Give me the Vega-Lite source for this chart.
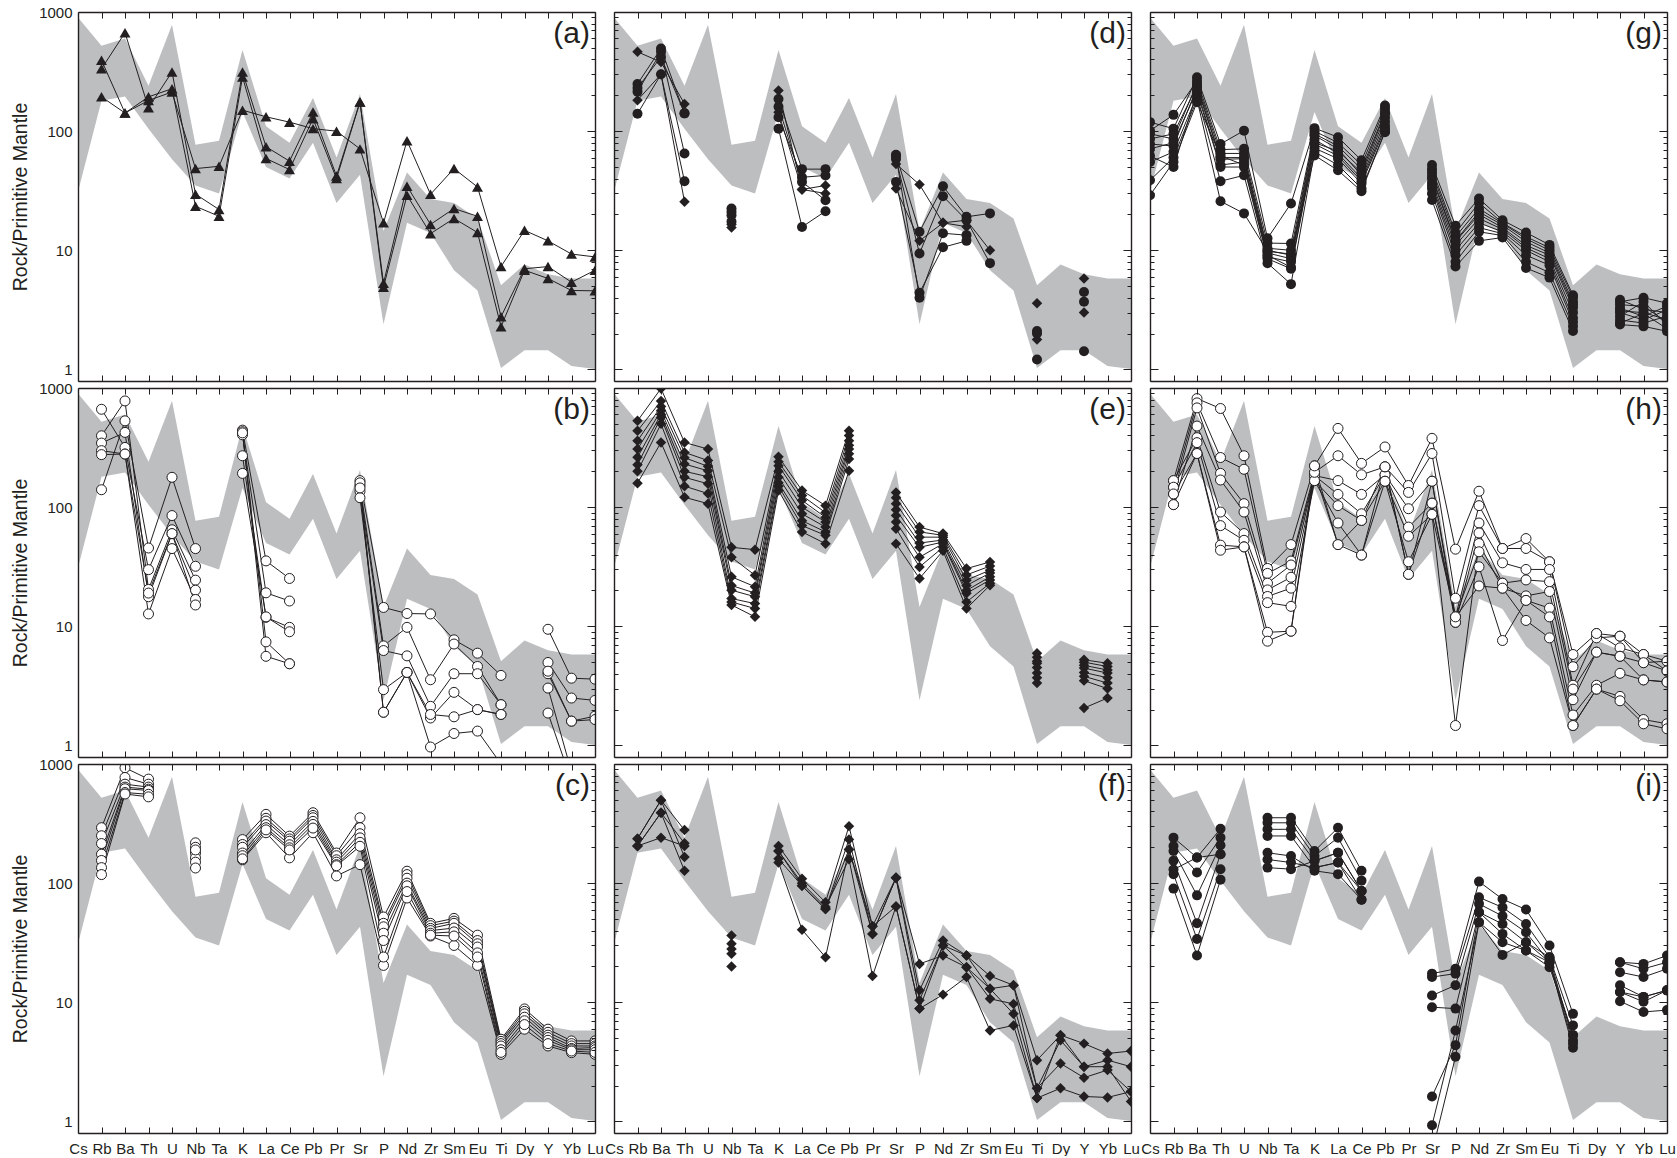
{
"$schema":"https://vega.github.io/schema/vega-lite/v6.json",
"background":"white",
"padding":{"left":10,"top":5,"right":0,"bottom":0},
"bounds":"flush",
"config":{"font":"Liberation Sans","view":{"stroke":null},
"axis":{"minExtent":0,"domain":true,"domainColor":"#231f20","domainWidth":1.4,"grid":false,"tickColor":"#231f20","tickWidth":1,"labelColor":"#231f20","labelFont":"Liberation Sans","titleFont":"Liberation Sans","titleFontWeight":"normal","titleColor":"#231f20"}},
"datasets":{
"band":[{"e":"Cs","lo":31,"hi":900},{"e":"Rb","lo":180,"hi":520},{"e":"Ba","lo":195,"hi":600},{"e":"Th","lo":105,"hi":240},{"e":"U","lo":58,"hi":780},{"e":"Nb","lo":35,"hi":77},{"e":"Ta","lo":30,"hi":83},{"e":"K","lo":145,"hi":480},{"e":"La","lo":50,"hi":110},{"e":"Ce","lo":40,"hi":80},{"e":"Pb","lo":80,"hi":190},{"e":"Pr","lo":25,"hi":60},{"e":"Sr","lo":43,"hi":205},{"e":"P","lo":2.4,"hi":14.5},{"e":"Nd","lo":17,"hi":45},{"e":"Zr","lo":14,"hi":27},{"e":"Sm","lo":6.8,"hi":25},{"e":"Eu","lo":4.6,"hi":18.5},{"e":"Ti","lo":1.03,"hi":5.1},{"e":"Dy","lo":1.45,"hi":7.6},{"e":"Y","lo":1.45,"hi":6.3},{"e":"Yb","lo":1.07,"hi":5.8},{"e":"Lu","lo":1.01,"hi":5.8}],
"A":[{"e":"Rb","s1":194,"s2":334,"s3":393},{"e":"Ba","s1":142,"s2":670,"s3":142},{"e":"Th","s1":181,"s2":157,"s3":194},{"e":"U","s1":213,"s2":314,"s3":227},{"e":"Nb","s1":48.5,"s2":29.6,"s3":23.4},{"e":"Ta","s1":50.7,"s2":22,"s3":19.3},{"e":"K","s1":150,"s2":314,"s3":285},{"e":"La","s1":132,"s2":74,"s3":59},{"e":"Ce","s1":119,"s2":56,"s3":47.6},{"e":"Pb","s1":105,"s2":145,"s3":127},{"e":"Pr","s1":100,"s2":42,"s3":40},{"e":"Sr","s1":71,"s2":176,"s3":176},{"e":"P","s1":17,"s2":5.3,"s3":4.9},{"e":"Nd","s1":83,"s2":34.5,"s3":29},{"e":"Zr","s1":29.5,"s2":16.5,"s3":13.8},{"e":"Sm","s1":48.5,"s2":22.4,"s3":18.5},{"e":"Eu","s1":34,"s2":19.3,"s3":14.1},{"e":"Ti","s1":7.3,"s2":2.77,"s3":2.28},{"e":"Dy","s1":14.7,"s2":7.0,"s3":6.8},{"e":"Y","s1":12,"s2":7.3,"s3":5.8},{"e":"Yb","s1":9.3,"s2":5.4,"s3":4.6},{"e":"Lu","s1":8.8,"s2":6.8,"s3":4.57}],
"B":[{"e":"Rb","s1":140,"s2":663,"s3":397,"s4":345,"s5":298,"s6":276},{"e":"Ba","s1":530,"s2":317,"s3":779,"s4":424,"s5":279,"s6":279},{"e":"Th","s1":45.4,"s2":29.9,"s3":20.4,"s4":17.7,"s5":12.7,"s6":19},{"e":"U","s1":178,"s2":85,"s3":64.6,"s4":59.8,"s5":44.9,"s6":60},{"e":"Nb","s1":44.9,"s2":31.9,"s3":24.4,"s4":20.1,"s5":16.8,"s6":15.1},{"e":"Ta"},{"e":"K","s1":443,"s2":405,"s3":270,"s4":192,"s5":430,"s6":420},{"e":"La","s1":35.4,"s2":19.1,"s3":11.9,"s4":12,"s5":7.4,"s6":5.6},{"e":"Ce","s1":25.2,"s2":16.3,"s3":9.8,"s4":9.0,"s5":4.85,"s6":4.85},{"e":"Pb"},{"e":"Sr","s1":167,"s2":152,"s3":136,"s4":120,"s5":160,"s6":145},{"e":"P","s1":14.4,"s2":6.85,"s3":6.26,"s4":2.94,"s5":1.9,"s6":1.9},{"e":"Nd","s1":12.8,"s2":9.8,"s3":5.65,"s4":4.1,"s5":4.1,"s6":4.1},{"e":"Zr","s1":12.7,"s2":3.56,"s3":2.13,"s4":1.7,"s5":1.82,"s6":0.97},{"e":"Sm","s1":7.7,"s2":7.1,"s3":4.0,"s4":2.79,"s5":1.74,"s6":1.26},{"e":"Eu","s1":5.95,"s2":4.6,"s3":4.0,"s4":2.0,"s5":2.0,"s6":1.32},{"e":"Ti","s1":3.87,"s2":2.2,"s3":2.2,"s4":1.82,"s5":1.82,"s6":0.7},{"e":"Dy"},{"e":"Y","s1":9.44,"s2":4.97,"s3":4.0,"s4":3.03,"s5":1.87,"s6":4.2},{"e":"Yb","s1":3.67,"s2":2.5,"s3":1.6,"s4":0.6,"s5":0.5,"s6":1.6},{"e":"Lu","s1":3.6,"s2":2.39,"s3":1.76,"s6":1.65}],
"C":[{"e":"Rb","s1":292,"s2":250,"s3":215,"s4":175,"s5":155,"s6":135,"s7":118},{"e":"Ba","s1":930,"s2":771,"s3":677,"s4":640,"s5":620,"s6":576,"s7":560},{"e":"Th","s1":747,"s2":677,"s3":640,"s4":615,"s5":600,"s6":557,"s7":530},{"e":"U"},{"e":"Nb","s1":218,"s2":200,"s3":179,"s4":163,"s5":150,"s6":134,"s7":190},{"e":"Ta"},{"e":"K","s1":232,"s2":211,"s3":200,"s4":179,"s5":170,"s6":157,"s7":160},{"e":"La","s1":378,"s2":350,"s3":332,"s4":310,"s5":292,"s6":265,"s7":280},{"e":"Ce","s1":248,"s2":235,"s3":225,"s4":210,"s5":198,"s6":163,"s7":190},{"e":"Pb","s1":390,"s2":370,"s3":354,"s4":330,"s5":311,"s6":265,"s7":290},{"e":"Pr","s1":179,"s2":170,"s3":157,"s4":150,"s5":143,"s6":115,"s7":140},{"e":"Sr","s1":354,"s2":292,"s3":260,"s4":240,"s5":220,"s6":143,"s7":204},{"e":"P","s1":52,"s2":46,"s3":43,"s4":38,"s5":33,"s6":20.4,"s7":24},{"e":"Nd","s1":126,"s2":118,"s3":110,"s4":100,"s5":95,"s6":75,"s7":85},{"e":"Zr","s1":46,"s2":44,"s3":41.7,"s4":40,"s5":38,"s6":36,"s7":36.6},{"e":"Sm","s1":50.6,"s2":48,"s3":46,"s4":42,"s5":39,"s6":30,"s7":36},{"e":"Eu","s1":36.6,"s2":33,"s3":31,"s4":29.1,"s5":26,"s6":20.4,"s7":24},{"e":"Ti","s1":4.9,"s2":4.7,"s3":4.5,"s4":4.3,"s5":4.0,"s6":3.66,"s7":3.8},{"e":"Dy","s1":8.8,"s2":8.4,"s3":8.0,"s4":7.5,"s5":7.0,"s6":5.95,"s7":6.5},{"e":"Y","s1":5.95,"s2":5.6,"s3":5.3,"s4":5.06,"s5":4.8,"s6":4.3,"s7":4.5},{"e":"Yb","s1":4.74,"s2":4.5,"s3":4.3,"s4":4.1,"s5":4.0,"s6":3.78,"s7":3.9},{"e":"Lu","s1":4.74,"s2":4.5,"s3":4.3,"s4":4.17,"s5":4.0,"s6":3.66,"s7":3.8}],
"D":[{"e":"Rb","c1":249,"c2":214,"c3":140,"c4":230,"d1":463,"d2":182},{"e":"Ba","c1":494,"c2":463,"c3":300,"c4":420,"d1":380,"d2":300},{"e":"Th","c1":141,"c2":65,"c3":38,"c4":141,"d1":169,"d2":25.5},{"e":"U"},{"e":"Nb","c1":22.4,"c2":19.7,"c3":17.4,"c4":21,"d1":16.5,"d2":15.5},{"e":"Ta"},{"e":"K","c1":186,"c2":131,"c3":105,"c4":160,"d1":219,"d2":144},{"e":"La","c1":48,"c2":41,"c3":15.7,"c4":37.5,"d1":32.4,"d2":32.4},{"e":"Ce","c1":48,"c2":42.5,"c3":21.3,"c4":26.3,"d1":30,"d2":35},{"e":"Pb"},{"e":"Sr","c1":63.4,"c2":58.5,"c3":37.5,"c4":62,"d1":53,"d2":33},{"e":"P","c1":14.3,"c2":9.4,"c3":4.4,"c4":4.0,"d1":35.6,"d2":12},{"e":"Nd","c1":34.5,"c2":28.4,"c3":10.6,"c4":13.9,"d1":17,"d2":17},{"e":"Zr","c1":19.1,"c2":17.9,"c3":12,"c4":13.4,"d1":17.9,"d2":15.8},{"e":"Sm","c1":20.4,"c2":7.8,"d1":10},{"e":"Eu"},{"e":"Ti","c1":2.1,"c2":2.0,"c3":1.21,"d1":3.6,"d2":1.78},{"e":"Dy"},{"e":"Y","c1":4.46,"c2":3.7,"c3":1.42,"d1":5.8,"d2":3.0}],
"E":[{"e":"Rb","s1":530,"s2":437,"s3":361,"s4":307,"s5":262,"s6":227,"s7":200,"s8":159},{"e":"Ba","s1":990,"s2":779,"s3":700,"s4":643,"s5":600,"s6":565,"s7":500,"s8":349},{"e":"Th","s1":349,"s2":288,"s3":260,"s4":230,"s5":200,"s6":178,"s7":150,"s8":121},{"e":"U","s1":307,"s2":246,"s3":220,"s4":202,"s5":180,"s6":157,"s7":130,"s8":107},{"e":"Nb","s1":46,"s2":38,"s3":26,"s4":22,"s5":20.1,"s6":17.1,"s7":16,"s8":15.1},{"e":"Ta","s1":44,"s2":26.8,"s3":21.5,"s4":19,"s5":17.7,"s6":15.5,"s7":14.1,"s8":12},{"e":"K","s1":265,"s2":240,"s3":223,"s4":200,"s5":178,"s6":160,"s7":150,"s8":138},{"e":"La","s1":138,"s2":125,"s3":114,"s4":100,"s5":88,"s6":77,"s7":70,"s8":62},{"e":"Ce","s1":103,"s2":90,"s3":82,"s4":75,"s5":68,"s6":62,"s7":58,"s8":49.4},{"e":"Pb","s1":437,"s2":400,"s3":361,"s4":330,"s5":307,"s6":280,"s7":253,"s8":202},{"e":"Pr"},{"e":"Sr","s1":133,"s2":120,"s3":107,"s4":95,"s5":85,"s6":75,"s7":66,"s8":49.4},{"e":"P","s1":68,"s2":62,"s3":56,"s4":50,"s5":46,"s6":38,"s7":31.5,"s8":25.2},{"e":"Nd","s1":60,"s2":58,"s3":56,"s4":53,"s5":51,"s6":49.4,"s7":46,"s8":43},{"e":"Zr","s1":30.5,"s2":27,"s3":24.4,"s4":22,"s5":20,"s6":18.9,"s7":16,"s8":14.1},{"e":"Sm","s1":34.7,"s2":32,"s3":29.6,"s4":28,"s5":26,"s6":24.5,"s7":23,"s8":22.1},{"e":"Eu"},{"e":"Ti","s1":5.95,"s2":5.5,"s3":5.1,"s4":4.9,"s5":4.5,"s6":4.05,"s7":3.7,"s8":3.34},{"e":"Dy"},{"e":"Y","s1":5.23,"s2":5.0,"s3":4.7,"s4":4.46,"s5":4.1,"s6":3.8,"s7":3.5,"s8":2.06},{"e":"Yb","s1":4.9,"s2":4.6,"s3":4.3,"s4":4.05,"s5":3.7,"s6":3.34,"s7":3.0,"s8":2.5}],
"F":[{"e":"Rb","s1":236,"s2":205,"s3":205,"s4":236,"s5":205},{"e":"Ba","s1":497,"s2":390,"s3":241,"s4":497,"s5":390},{"e":"Th","s1":279,"s2":216,"s3":205,"s4":166,"s5":127},{"e":"U"},{"e":"Nb","s1":36.3,"s2":31,"s3":28,"s4":25.5,"s5":20},{"e":"Ta"},{"e":"K","s1":205,"s2":186,"s3":149,"s4":186,"s5":160},{"e":"La","s1":109,"s2":95,"s3":40.7,"s4":100,"s5":95},{"e":"Ce","s1":69,"s2":60.6,"s3":23.9,"s4":63,"s5":60.6},{"e":"Pb","s1":301,"s2":233,"s3":192,"s4":159,"s5":192},{"e":"Pr","s1":43.4,"s2":37.5,"s3":37.5,"s4":16.6,"s5":43.4},{"e":"Sr","s1":111,"s2":111,"s3":111,"s4":63.8,"s5":63.8},{"e":"P","s1":12.6,"s2":10.4,"s3":21,"s4":8.85,"s5":8.85},{"e":"Nd","s1":33,"s2":30,"s3":24.7,"s4":11.6,"s5":30},{"e":"Zr","s1":24.7,"s2":19.7,"s3":19.7,"s4":16.3,"s5":24.7},{"e":"Sm","s1":16.6,"s2":13,"s3":10.7,"s4":5.8,"s5":13},{"e":"Eu","s1":13.9,"s2":13.9,"s3":9.7,"s4":6.4,"s5":8.0},{"e":"Ti","s1":3.27,"s2":1.9,"s3":1.9,"s4":1.57,"s5":1.57},{"e":"Dy","s1":5.3,"s2":4.8,"s3":3.07,"s4":1.9,"s5":5.3},{"e":"Y","s1":4.5,"s2":2.88,"s3":2.33,"s4":1.62,"s5":2.88},{"e":"Yb","s1":3.72,"s2":3.27,"s3":2.7,"s4":1.59,"s5":2.88},{"e":"Lu","s1":3.9,"s2":2.88,"s3":1.78,"s4":1.78,"s5":1.47}],
"G":[{"e":"Cs","s1":119,"s2":101,"s3":95,"s4":86,"s5":78,"s6":71,"s7":62,"s8":55,"s9":38.7,"s10":29},{"e":"Rb","s1":105,"s2":137,"s3":86,"s4":95,"s5":75,"s6":80,"s7":50,"s8":67,"s9":60,"s10":55},{"e":"Ba","s1":283,"s2":265,"s3":250,"s4":240,"s5":233,"s6":220,"s7":210,"s8":199,"s9":185,"s10":175},{"e":"Th","s1":78,"s2":70,"s3":65,"s4":60,"s5":58,"s6":52,"s7":50,"s8":38,"s9":25.8,"s10":62},{"e":"U","s1":101,"s2":71,"s3":65,"s4":60,"s5":58.7,"s6":55,"s7":50,"s8":42.6,"s9":20.4,"s10":52},{"e":"Nb","s1":12.6,"s2":11.5,"s3":10.4,"s4":10,"s5":9.5,"s6":9.1,"s7":8.5,"s8":7.8,"s9":9.8,"s10":8.8},{"e":"Ta","s1":24.7,"s2":11.4,"s3":10,"s4":9.1,"s5":8.5,"s6":7.2,"s7":7.0,"s8":5.2,"s9":9.3,"s10":8},{"e":"K","s1":106,"s2":100,"s3":95,"s4":92,"s5":85,"s6":78,"s7":72,"s8":67,"s9":62.6,"s10":80},{"e":"La","s1":89,"s2":80,"s3":75,"s4":71,"s5":65,"s6":62,"s7":58.7,"s8":52,"s9":46.9,"s10":68},{"e":"Ce","s1":56.9,"s2":52,"s3":48,"s4":42.6,"s5":40,"s6":38,"s7":36.3,"s8":33,"s9":31.3,"s10":45},{"e":"Pb","s1":164,"s2":155,"s3":144,"s4":130,"s5":120,"s6":111,"s7":105,"s8":98,"s9":100,"s10":140},{"e":"Pr"},{"e":"Sr","s1":52,"s2":48,"s3":45,"s4":42,"s5":40,"s6":37,"s7":35,"s8":33,"s9":30,"s10":26.4},{"e":"P","s1":16.1,"s2":14,"s3":13,"s4":12,"s5":11.8,"s6":11,"s7":10,"s8":9.1,"s9":8,"s10":7.3},{"e":"Nd","s1":27.2,"s2":25,"s3":22.4,"s4":21,"s5":20,"s6":18.5,"s7":17,"s8":15.5,"s9":14.3,"s10":12},{"e":"Zr","s1":17.9,"s2":17,"s3":16.8,"s4":16.3,"s5":15.5,"s6":15,"s7":14.3,"s8":13.8,"s9":13.3,"s10":12.8},{"e":"Sm","s1":14.1,"s2":13,"s3":12.5,"s4":11.8,"s5":11,"s6":10.5,"s7":10,"s8":9.1,"s9":8,"s10":7.1},{"e":"Eu","s1":11.1,"s2":10.5,"s3":10,"s4":9.5,"s5":9.1,"s6":8.5,"s7":8,"s8":7.5,"s9":6.5,"s10":5.9},{"e":"Ti","s1":4.2,"s2":4.0,"s3":3.7,"s4":3.5,"s5":3.3,"s6":3.0,"s7":2.7,"s8":2.5,"s9":2.3,"s10":2.1},{"e":"Dy"},{"e":"Y","s1":3.85,"s2":3.7,"s3":3.5,"s4":3.27,"s5":3.1,"s6":3.0,"s7":2.79,"s8":2.6,"s9":2.45,"s10":2.38},{"e":"Yb","s1":3.2,"s2":4.0,"s3":3.38,"s4":2.79,"s5":3.0,"s6":2.6,"s7":3.7,"s8":2.45,"s9":2.95,"s10":2.3},{"e":"Lu","s1":3.0,"s2":3.6,"s3":2.5,"s4":3.4,"s5":2.62,"s6":3.17,"s7":2.35,"s8":2.8,"s9":2.2,"s10":2.09}],
"H":[{"e":"Rb","s1":167,"s2":147,"s3":129,"s4":105,"s5":167,"s6":147,"s7":129,"s8":105},{"e":"Ba","s1":815,"s2":750,"s3":681,"s4":479,"s5":383,"s6":348,"s7":282,"s8":282},{"e":"Th","s1":673,"s2":261,"s3":192,"s4":169,"s5":91,"s6":70,"s7":48,"s8":43.5},{"e":"U","s1":270,"s2":208,"s3":107,"s4":91,"s5":60,"s6":52.7,"s7":46.4,"s8":46.4},{"e":"Nb","s1":30.6,"s2":27.8,"s3":23,"s4":20.2,"s5":17.8,"s6":15.8,"s7":8.9,"s8":7.5},{"e":"Ta","s1":48.5,"s2":35.3,"s3":32.7,"s4":25.8,"s5":20.9,"s6":14.7,"s7":9.1,"s8":9.1},{"e":"K","s1":222,"s2":196,"s3":184,"s4":184,"s5":167,"s6":167,"s7":196,"s8":222},{"e":"La","s1":458,"s2":270,"s3":167,"s4":128,"s5":103,"s6":73.6,"s7":48.5,"s8":48.5},{"e":"Ce","s1":233,"s2":187,"s3":128,"s4":88,"s5":77.4,"s6":39.6,"s7":39.6,"s8":77.4},{"e":"Pb","s1":320,"s2":218,"s3":187,"s4":187,"s5":165,"s6":165,"s7":218,"s8":218},{"e":"Pr","s1":152,"s2":133,"s3":97,"s4":68,"s5":57,"s6":34.8,"s7":27.3,"s8":27.3},{"e":"Sr","s1":378,"s2":282,"s3":165,"s4":108,"s5":87,"s6":87,"s7":165,"s8":108},{"e":"P","s1":44.4,"s2":17.2,"s3":12,"s4":10.8,"s5":1.47,"s6":12,"s7":10.8,"s8":12},{"e":"Nd","s1":136,"s2":103,"s3":73.6,"s4":60.7,"s5":49.5,"s6":42.2,"s7":31.6,"s8":21.8},{"e":"Zr","s1":45,"s2":45,"s3":34.1,"s4":23,"s5":20.9,"s6":23,"s7":7.6,"s8":20.9},{"e":"Sm","s1":54.5,"s2":45,"s3":30,"s4":24.5,"s5":18,"s6":16.5,"s7":16.5,"s8":11.2},{"e":"Eu","s1":34.8,"s2":34.8,"s3":30,"s4":23.7,"s5":19.6,"s6":14.2,"s7":12,"s8":8.0},{"e":"Ti","s1":5.8,"s2":4.58,"s3":3.2,"s4":2.97,"s5":2.42,"s6":1.8,"s7":1.47,"s8":1.47},{"e":"Dy","s1":8.7,"s2":8.0,"s3":8.7,"s4":6.07,"s5":6.07,"s6":3.2,"s7":2.97,"s8":2.97},{"e":"Y","s1":8.26,"s2":8.26,"s3":6.6,"s4":5.6,"s5":5.6,"s6":4.03,"s7":2.58,"s8":2.37},{"e":"Yb","s1":5.8,"s2":4.95,"s3":5.8,"s4":4.95,"s5":3.55,"s6":3.55,"s7":1.65,"s8":1.52},{"e":"Lu","s1":5.1,"s2":5.1,"s3":4.22,"s4":4.22,"s5":3.41,"s6":3.41,"s7":1.52,"s8":1.38}],
"I":[{"e":"Rb","s1":241,"s2":205,"s3":186,"s4":154,"s5":119,"s6":90,"s7":130},{"e":"Ba","s1":164,"s2":123,"s3":79,"s4":46,"s5":34,"s6":24.7,"s7":164},{"e":"Th","s1":286,"s2":241,"s3":208,"s4":175,"s5":131,"s6":107,"s7":175},{"e":"U"},{"e":"Nb","s1":354,"s2":321,"s3":283,"s4":249,"s5":180,"s6":158,"s7":135},{"e":"Ta","s1":354,"s2":321,"s3":283,"s4":249,"s5":169,"s6":149,"s7":131},{"e":"K","s1":186,"s2":169,"s3":154,"s4":135,"s5":127,"s6":135,"s7":154},{"e":"La","s1":292,"s2":241,"s3":180,"s4":149,"s5":119,"s6":149,"s7":180},{"e":"Ce","s1":127,"s2":105,"s3":86,"s4":72.6,"s5":72.6,"s6":86,"s7":86},{"e":"Pb"},{"e":"Sr","s1":17.4,"s2":16.3,"s3":11.4,"s4":9.1,"s5":1.62,"s6":0.55,"s7":0.93},{"e":"P","s1":19.1,"s2":17.4,"s3":13.9,"s4":8.85,"s5":4.37,"s6":3.49,"s7":5.8},{"e":"Nd","s1":103,"s2":76,"s3":67,"s4":57,"s5":57,"s6":47,"s7":47},{"e":"Zr","s1":73.5,"s2":62.6,"s3":53,"s4":45.4,"s5":37.5,"s6":31.9,"s7":25},{"e":"Sm","s1":60,"s2":45.4,"s3":38.7,"s4":31.9,"s5":27.2,"s6":27.2,"s7":31.9},{"e":"Eu","s1":30,"s2":23.9,"s3":21.7,"s4":21.7,"s5":19.7,"s6":21.7,"s7":23.9},{"e":"Ti","s1":8.0,"s2":6.4,"s3":5.3,"s4":4.15,"s5":5.3,"s6":4.5,"s7":4.8},{"e":"Dy"},{"e":"Y","s1":21.7,"s2":21.7,"s3":17.9,"s4":13.9,"s5":12.2,"s6":10.2,"s7":12.2},{"e":"Yb","s1":21,"s2":19.1,"s3":16.3,"s4":11.1,"s5":10.1,"s6":8.3,"s7":11.1},{"e":"Lu","s1":24.7,"s2":21.7,"s3":19.1,"s4":12.6,"s5":12.6,"s6":8.6,"s7":12.6}]
},
"columns":3,
"spacing":{"row":7,"column":19},
"concat":[
{"width":517,"height":369,"resolve":{"axis":{"x":"independent","y":"independent"}},"layer":[
{"data":{"name":"band"},"mark":{"type":"area","color":"#bcbec0","opacity":1},"encoding":{"x":{"field":"e","type":"ordinal","sort":["Cs","Rb","Ba","Th","U","Nb","Ta","K","La","Ce","Pb","Pr","Sr","P","Nd","Zr","Sm","Eu","Ti","Dy","Y","Yb","Lu"],"scale":{"type":"point","domain":["Cs","Rb","Ba","Th","U","Nb","Ta","K","La","Ce","Pb","Pr","Sr","P","Nd","Zr","Sm","Eu","Ti","Dy","Y","Yb","Lu"],"padding":0},"axis":{"orient":"bottom","labels":false,"title":null,"tickSize":-6,"minExtent":0,"maxExtent":0,"zindex":1}},"y":{"field":"lo","type":"quantitative","scale":{"type":"log","domain":[0.8,1000],"nice":false},"axis":{"orient":"left","values":[1,10,100,1000],"format":"d","ticks":false,"labelFontSize":15,"labelPadding":6,"title":"Rock/Primitive Mantle","titleFontSize":19.5,"titlePadding":8,"zindex":1}},"y2":{"field":"hi"}}},
{"data":{"name":"band"},"mark":{"type":"point","opacity":0},"encoding":{"x":{"field":"e","type":"ordinal","sort":["Cs","Rb","Ba","Th","U","Nb","Ta","K","La","Ce","Pb","Pr","Sr","P","Nd","Zr","Sm","Eu","Ti","Dy","Y","Yb","Lu"],"axis":{"orient":"top","labels":false,"title":null,"tickSize":-6,"minExtent":0,"maxExtent":0,"zindex":1}},"y":{"field":"hi","type":"quantitative","axis":{"orient":"right","values":[1,2,3,4,5,6,7,8,9,10,20,30,40,50,60,70,80,90,100,200,300,400,500,600,700,800,900,1000],"labels":false,"title":null,"minExtent":0,"maxExtent":0,"tickSize":{"condition":{"test":"indexof([1,10,100,1000], datum.value) >= 0","value":-8},"value":-4},"zindex":1}}}},
{"data":{"name":"A"},"transform":[{"fold":["s1","s2","s3"],"as":["k","v"]}],"mark":{"type":"line","color":"#231f20","strokeWidth":1,"clip":true},"encoding":{"x":{"field":"e","type":"ordinal","sort":["Cs","Rb","Ba","Th","U","Nb","Ta","K","La","Ce","Pb","Pr","Sr","P","Nd","Zr","Sm","Eu","Ti","Dy","Y","Yb","Lu"],"axis":null},"y":{"field":"v","type":"quantitative","axis":null},"detail":{"field":"k"}}},
{"data":{"name":"A"},"transform":[{"fold":["s1","s2","s3"],"as":["k","v"]}],"mark":{"type":"point","shape":"triangle-up","filled":true,"color":"#231f20","opacity":1,"size":120,"clip":true},"encoding":{"x":{"field":"e","type":"ordinal","axis":null},"y":{"field":"v","type":"quantitative","axis":null}}},
{"data":{"values":[{"t":"(a)"}]},"mark":{"type":"text","align":"right","baseline":"middle","fontSize":30,"dx":-5,"color":"#231f20"},"encoding":{"x":{"datum":"Lu","type":"ordinal","axis":null},"y":{"datum":650,"type":"quantitative","axis":null},"text":{"field":"t"}}}
]},
{"width":517,"height":369,"resolve":{"axis":{"x":"independent","y":"independent"}},"layer":[
{"data":{"name":"band"},"mark":{"type":"area","color":"#bcbec0","opacity":1},"encoding":{"x":{"field":"e","type":"ordinal","sort":["Cs","Rb","Ba","Th","U","Nb","Ta","K","La","Ce","Pb","Pr","Sr","P","Nd","Zr","Sm","Eu","Ti","Dy","Y","Yb","Lu"],"scale":{"type":"point","domain":["Cs","Rb","Ba","Th","U","Nb","Ta","K","La","Ce","Pb","Pr","Sr","P","Nd","Zr","Sm","Eu","Ti","Dy","Y","Yb","Lu"],"padding":0},"axis":{"orient":"bottom","labels":false,"title":null,"tickSize":-6,"minExtent":0,"maxExtent":0,"zindex":1}},"y":{"field":"lo","type":"quantitative","scale":{"type":"log","domain":[0.8,1000],"nice":false},"axis":{"orient":"left","values":[1,2,3,4,5,6,7,8,9,10,20,30,40,50,60,70,80,90,100,200,300,400,500,600,700,800,900,1000],"labels":false,"title":null,"minExtent":0,"maxExtent":0,"tickSize":{"condition":{"test":"indexof([1,10,100,1000], datum.value) >= 0","value":-8},"value":-4},"zindex":1}},"y2":{"field":"hi"}}},
{"data":{"name":"band"},"mark":{"type":"point","opacity":0},"encoding":{"x":{"field":"e","type":"ordinal","sort":["Cs","Rb","Ba","Th","U","Nb","Ta","K","La","Ce","Pb","Pr","Sr","P","Nd","Zr","Sm","Eu","Ti","Dy","Y","Yb","Lu"],"axis":{"orient":"top","labels":false,"title":null,"tickSize":-6,"minExtent":0,"maxExtent":0,"zindex":1}},"y":{"field":"hi","type":"quantitative","axis":{"orient":"right","values":[1,2,3,4,5,6,7,8,9,10,20,30,40,50,60,70,80,90,100,200,300,400,500,600,700,800,900,1000],"labels":false,"title":null,"minExtent":0,"maxExtent":0,"tickSize":{"condition":{"test":"indexof([1,10,100,1000], datum.value) >= 0","value":-8},"value":-4},"zindex":1}}}},
{"data":{"name":"D"},"transform":[{"fold":["c1","c2","c3","c4","d1","d2"],"as":["k","v"]}],"mark":{"type":"line","color":"#231f20","strokeWidth":1,"clip":true},"encoding":{"x":{"field":"e","type":"ordinal","sort":["Cs","Rb","Ba","Th","U","Nb","Ta","K","La","Ce","Pb","Pr","Sr","P","Nd","Zr","Sm","Eu","Ti","Dy","Y","Yb","Lu"],"axis":null},"y":{"field":"v","type":"quantitative","axis":null},"detail":{"field":"k"}}},
{"data":{"name":"D"},"transform":[{"fold":["c1","c2","c3","c4"],"as":["k","v"]}],"mark":{"type":"point","shape":"circle","filled":true,"color":"#231f20","opacity":1,"size":100,"clip":true},"encoding":{"x":{"field":"e","type":"ordinal","axis":null},"y":{"field":"v","type":"quantitative","axis":null}}},
{"data":{"name":"D"},"transform":[{"fold":["d1","d2"],"as":["k","v"]}],"mark":{"type":"point","shape":"diamond","filled":true,"color":"#231f20","opacity":1,"size":110,"clip":true},"encoding":{"x":{"field":"e","type":"ordinal","axis":null},"y":{"field":"v","type":"quantitative","axis":null}}},
{"data":{"values":[{"t":"(d)"}]},"mark":{"type":"text","align":"right","baseline":"middle","fontSize":30,"dx":-5,"color":"#231f20"},"encoding":{"x":{"datum":"Lu","type":"ordinal","axis":null},"y":{"datum":650,"type":"quantitative","axis":null},"text":{"field":"t"}}}
]},
{"width":517,"height":369,"resolve":{"axis":{"x":"independent","y":"independent"}},"layer":[
{"data":{"name":"band"},"mark":{"type":"area","color":"#bcbec0","opacity":1},"encoding":{"x":{"field":"e","type":"ordinal","sort":["Cs","Rb","Ba","Th","U","Nb","Ta","K","La","Ce","Pb","Pr","Sr","P","Nd","Zr","Sm","Eu","Ti","Dy","Y","Yb","Lu"],"scale":{"type":"point","domain":["Cs","Rb","Ba","Th","U","Nb","Ta","K","La","Ce","Pb","Pr","Sr","P","Nd","Zr","Sm","Eu","Ti","Dy","Y","Yb","Lu"],"padding":0},"axis":{"orient":"bottom","labels":false,"title":null,"tickSize":-6,"minExtent":0,"maxExtent":0,"zindex":1}},"y":{"field":"lo","type":"quantitative","scale":{"type":"log","domain":[0.8,1000],"nice":false},"axis":{"orient":"left","values":[1,2,3,4,5,6,7,8,9,10,20,30,40,50,60,70,80,90,100,200,300,400,500,600,700,800,900,1000],"labels":false,"title":null,"minExtent":0,"maxExtent":0,"tickSize":{"condition":{"test":"indexof([1,10,100,1000], datum.value) >= 0","value":-8},"value":-4},"zindex":1}},"y2":{"field":"hi"}}},
{"data":{"name":"band"},"mark":{"type":"point","opacity":0},"encoding":{"x":{"field":"e","type":"ordinal","sort":["Cs","Rb","Ba","Th","U","Nb","Ta","K","La","Ce","Pb","Pr","Sr","P","Nd","Zr","Sm","Eu","Ti","Dy","Y","Yb","Lu"],"axis":{"orient":"top","labels":false,"title":null,"tickSize":-6,"minExtent":0,"maxExtent":0,"zindex":1}},"y":{"field":"hi","type":"quantitative","axis":{"orient":"right","values":[1,2,3,4,5,6,7,8,9,10,20,30,40,50,60,70,80,90,100,200,300,400,500,600,700,800,900,1000],"labels":false,"title":null,"minExtent":0,"maxExtent":0,"tickSize":{"condition":{"test":"indexof([1,10,100,1000], datum.value) >= 0","value":-8},"value":-4},"zindex":1}}}},
{"data":{"name":"G"},"transform":[{"fold":["s1","s2","s3","s4","s5","s6","s7","s8","s9","s10"],"as":["k","v"]}],"mark":{"type":"line","color":"#231f20","strokeWidth":1,"clip":true},"encoding":{"x":{"field":"e","type":"ordinal","sort":["Cs","Rb","Ba","Th","U","Nb","Ta","K","La","Ce","Pb","Pr","Sr","P","Nd","Zr","Sm","Eu","Ti","Dy","Y","Yb","Lu"],"axis":null},"y":{"field":"v","type":"quantitative","axis":null},"detail":{"field":"k"}}},
{"data":{"name":"G"},"transform":[{"fold":["s1","s2","s3","s4","s5","s6","s7","s8","s9","s10"],"as":["k","v"]}],"mark":{"type":"point","shape":"circle","filled":true,"color":"#231f20","opacity":1,"size":100,"clip":true},"encoding":{"x":{"field":"e","type":"ordinal","axis":null},"y":{"field":"v","type":"quantitative","axis":null}}},
{"data":{"values":[{"t":"(g)"}]},"mark":{"type":"text","align":"right","baseline":"middle","fontSize":30,"dx":-5,"color":"#231f20"},"encoding":{"x":{"datum":"Lu","type":"ordinal","axis":null},"y":{"datum":650,"type":"quantitative","axis":null},"text":{"field":"t"}}}
]},
{"width":517,"height":369,"resolve":{"axis":{"x":"independent","y":"independent"}},"layer":[
{"data":{"name":"band"},"mark":{"type":"area","color":"#bcbec0","opacity":1},"encoding":{"x":{"field":"e","type":"ordinal","sort":["Cs","Rb","Ba","Th","U","Nb","Ta","K","La","Ce","Pb","Pr","Sr","P","Nd","Zr","Sm","Eu","Ti","Dy","Y","Yb","Lu"],"scale":{"type":"point","domain":["Cs","Rb","Ba","Th","U","Nb","Ta","K","La","Ce","Pb","Pr","Sr","P","Nd","Zr","Sm","Eu","Ti","Dy","Y","Yb","Lu"],"padding":0},"axis":{"orient":"bottom","labels":false,"title":null,"tickSize":-6,"minExtent":0,"maxExtent":0,"zindex":1}},"y":{"field":"lo","type":"quantitative","scale":{"type":"log","domain":[0.8,1000],"nice":false},"axis":{"orient":"left","values":[1,10,100,1000],"format":"d","ticks":false,"labelFontSize":15,"labelPadding":6,"title":"Rock/Primitive Mantle","titleFontSize":19.5,"titlePadding":8,"zindex":1}},"y2":{"field":"hi"}}},
{"data":{"name":"band"},"mark":{"type":"point","opacity":0},"encoding":{"x":{"field":"e","type":"ordinal","sort":["Cs","Rb","Ba","Th","U","Nb","Ta","K","La","Ce","Pb","Pr","Sr","P","Nd","Zr","Sm","Eu","Ti","Dy","Y","Yb","Lu"],"axis":{"orient":"top","labels":false,"title":null,"tickSize":-6,"minExtent":0,"maxExtent":0,"zindex":1}},"y":{"field":"hi","type":"quantitative","axis":{"orient":"right","values":[1,2,3,4,5,6,7,8,9,10,20,30,40,50,60,70,80,90,100,200,300,400,500,600,700,800,900,1000],"labels":false,"title":null,"minExtent":0,"maxExtent":0,"tickSize":{"condition":{"test":"indexof([1,10,100,1000], datum.value) >= 0","value":-8},"value":-4},"zindex":1}}}},
{"data":{"name":"B"},"transform":[{"fold":["s1","s2","s3","s4","s5","s6"],"as":["k","v"]}],"mark":{"type":"line","color":"#231f20","strokeWidth":1,"clip":true},"encoding":{"x":{"field":"e","type":"ordinal","sort":["Cs","Rb","Ba","Th","U","Nb","Ta","K","La","Ce","Pb","Pr","Sr","P","Nd","Zr","Sm","Eu","Ti","Dy","Y","Yb","Lu"],"axis":null},"y":{"field":"v","type":"quantitative","axis":null},"detail":{"field":"k"}}},
{"data":{"name":"B"},"transform":[{"fold":["s1","s2","s3","s4","s5","s6"],"as":["k","v"]}],"mark":{"type":"point","shape":"circle","filled":true,"fill":"white","stroke":"#231f20","strokeWidth":1,"opacity":1,"size":100,"clip":true},"encoding":{"x":{"field":"e","type":"ordinal","axis":null},"y":{"field":"v","type":"quantitative","axis":null}}},
{"data":{"values":[{"t":"(b)"}]},"mark":{"type":"text","align":"right","baseline":"middle","fontSize":30,"dx":-5,"color":"#231f20"},"encoding":{"x":{"datum":"Lu","type":"ordinal","axis":null},"y":{"datum":650,"type":"quantitative","axis":null},"text":{"field":"t"}}}
]},
{"width":517,"height":369,"resolve":{"axis":{"x":"independent","y":"independent"}},"layer":[
{"data":{"name":"band"},"mark":{"type":"area","color":"#bcbec0","opacity":1},"encoding":{"x":{"field":"e","type":"ordinal","sort":["Cs","Rb","Ba","Th","U","Nb","Ta","K","La","Ce","Pb","Pr","Sr","P","Nd","Zr","Sm","Eu","Ti","Dy","Y","Yb","Lu"],"scale":{"type":"point","domain":["Cs","Rb","Ba","Th","U","Nb","Ta","K","La","Ce","Pb","Pr","Sr","P","Nd","Zr","Sm","Eu","Ti","Dy","Y","Yb","Lu"],"padding":0},"axis":{"orient":"bottom","labels":false,"title":null,"tickSize":-6,"minExtent":0,"maxExtent":0,"zindex":1}},"y":{"field":"lo","type":"quantitative","scale":{"type":"log","domain":[0.8,1000],"nice":false},"axis":{"orient":"left","values":[1,2,3,4,5,6,7,8,9,10,20,30,40,50,60,70,80,90,100,200,300,400,500,600,700,800,900,1000],"labels":false,"title":null,"minExtent":0,"maxExtent":0,"tickSize":{"condition":{"test":"indexof([1,10,100,1000], datum.value) >= 0","value":-8},"value":-4},"zindex":1}},"y2":{"field":"hi"}}},
{"data":{"name":"band"},"mark":{"type":"point","opacity":0},"encoding":{"x":{"field":"e","type":"ordinal","sort":["Cs","Rb","Ba","Th","U","Nb","Ta","K","La","Ce","Pb","Pr","Sr","P","Nd","Zr","Sm","Eu","Ti","Dy","Y","Yb","Lu"],"axis":{"orient":"top","labels":false,"title":null,"tickSize":-6,"minExtent":0,"maxExtent":0,"zindex":1}},"y":{"field":"hi","type":"quantitative","axis":{"orient":"right","values":[1,2,3,4,5,6,7,8,9,10,20,30,40,50,60,70,80,90,100,200,300,400,500,600,700,800,900,1000],"labels":false,"title":null,"minExtent":0,"maxExtent":0,"tickSize":{"condition":{"test":"indexof([1,10,100,1000], datum.value) >= 0","value":-8},"value":-4},"zindex":1}}}},
{"data":{"name":"E"},"transform":[{"fold":["s1","s2","s3","s4","s5","s6","s7","s8"],"as":["k","v"]}],"mark":{"type":"line","color":"#231f20","strokeWidth":1,"clip":true},"encoding":{"x":{"field":"e","type":"ordinal","sort":["Cs","Rb","Ba","Th","U","Nb","Ta","K","La","Ce","Pb","Pr","Sr","P","Nd","Zr","Sm","Eu","Ti","Dy","Y","Yb","Lu"],"axis":null},"y":{"field":"v","type":"quantitative","axis":null},"detail":{"field":"k"}}},
{"data":{"name":"E"},"transform":[{"fold":["s1","s2","s3","s4","s5","s6","s7","s8"],"as":["k","v"]}],"mark":{"type":"point","shape":"diamond","filled":true,"color":"#231f20","opacity":1,"size":110,"clip":true},"encoding":{"x":{"field":"e","type":"ordinal","axis":null},"y":{"field":"v","type":"quantitative","axis":null}}},
{"data":{"values":[{"t":"(e)"}]},"mark":{"type":"text","align":"right","baseline":"middle","fontSize":30,"dx":-5,"color":"#231f20"},"encoding":{"x":{"datum":"Lu","type":"ordinal","axis":null},"y":{"datum":650,"type":"quantitative","axis":null},"text":{"field":"t"}}}
]},
{"width":517,"height":369,"resolve":{"axis":{"x":"independent","y":"independent"}},"layer":[
{"data":{"name":"band"},"mark":{"type":"area","color":"#bcbec0","opacity":1},"encoding":{"x":{"field":"e","type":"ordinal","sort":["Cs","Rb","Ba","Th","U","Nb","Ta","K","La","Ce","Pb","Pr","Sr","P","Nd","Zr","Sm","Eu","Ti","Dy","Y","Yb","Lu"],"scale":{"type":"point","domain":["Cs","Rb","Ba","Th","U","Nb","Ta","K","La","Ce","Pb","Pr","Sr","P","Nd","Zr","Sm","Eu","Ti","Dy","Y","Yb","Lu"],"padding":0},"axis":{"orient":"bottom","labels":false,"title":null,"tickSize":-6,"minExtent":0,"maxExtent":0,"zindex":1}},"y":{"field":"lo","type":"quantitative","scale":{"type":"log","domain":[0.8,1000],"nice":false},"axis":{"orient":"left","values":[1,2,3,4,5,6,7,8,9,10,20,30,40,50,60,70,80,90,100,200,300,400,500,600,700,800,900,1000],"labels":false,"title":null,"minExtent":0,"maxExtent":0,"tickSize":{"condition":{"test":"indexof([1,10,100,1000], datum.value) >= 0","value":-8},"value":-4},"zindex":1}},"y2":{"field":"hi"}}},
{"data":{"name":"band"},"mark":{"type":"point","opacity":0},"encoding":{"x":{"field":"e","type":"ordinal","sort":["Cs","Rb","Ba","Th","U","Nb","Ta","K","La","Ce","Pb","Pr","Sr","P","Nd","Zr","Sm","Eu","Ti","Dy","Y","Yb","Lu"],"axis":{"orient":"top","labels":false,"title":null,"tickSize":-6,"minExtent":0,"maxExtent":0,"zindex":1}},"y":{"field":"hi","type":"quantitative","axis":{"orient":"right","values":[1,2,3,4,5,6,7,8,9,10,20,30,40,50,60,70,80,90,100,200,300,400,500,600,700,800,900,1000],"labels":false,"title":null,"minExtent":0,"maxExtent":0,"tickSize":{"condition":{"test":"indexof([1,10,100,1000], datum.value) >= 0","value":-8},"value":-4},"zindex":1}}}},
{"data":{"name":"H"},"transform":[{"fold":["s1","s2","s3","s4","s5","s6","s7","s8"],"as":["k","v"]}],"mark":{"type":"line","color":"#231f20","strokeWidth":1,"clip":true},"encoding":{"x":{"field":"e","type":"ordinal","sort":["Cs","Rb","Ba","Th","U","Nb","Ta","K","La","Ce","Pb","Pr","Sr","P","Nd","Zr","Sm","Eu","Ti","Dy","Y","Yb","Lu"],"axis":null},"y":{"field":"v","type":"quantitative","axis":null},"detail":{"field":"k"}}},
{"data":{"name":"H"},"transform":[{"fold":["s1","s2","s3","s4","s5","s6","s7","s8"],"as":["k","v"]}],"mark":{"type":"point","shape":"circle","filled":true,"fill":"white","stroke":"#231f20","strokeWidth":1,"opacity":1,"size":100,"clip":true},"encoding":{"x":{"field":"e","type":"ordinal","axis":null},"y":{"field":"v","type":"quantitative","axis":null}}},
{"data":{"values":[{"t":"(h)"}]},"mark":{"type":"text","align":"right","baseline":"middle","fontSize":30,"dx":-5,"color":"#231f20"},"encoding":{"x":{"datum":"Lu","type":"ordinal","axis":null},"y":{"datum":650,"type":"quantitative","axis":null},"text":{"field":"t"}}}
]},
{"width":517,"height":369,"resolve":{"axis":{"x":"independent","y":"independent"}},"layer":[
{"data":{"name":"band"},"mark":{"type":"area","color":"#bcbec0","opacity":1},"encoding":{"x":{"field":"e","type":"ordinal","sort":["Cs","Rb","Ba","Th","U","Nb","Ta","K","La","Ce","Pb","Pr","Sr","P","Nd","Zr","Sm","Eu","Ti","Dy","Y","Yb","Lu"],"scale":{"type":"point","domain":["Cs","Rb","Ba","Th","U","Nb","Ta","K","La","Ce","Pb","Pr","Sr","P","Nd","Zr","Sm","Eu","Ti","Dy","Y","Yb","Lu"],"padding":0},"axis":{"orient":"bottom","title":null,"tickSize":-6,"labelFontSize":15,"labelAngle":0,"labelPadding":14,"labelOverlap":false,"zindex":1}},"y":{"field":"lo","type":"quantitative","scale":{"type":"log","domain":[0.8,1000],"nice":false},"axis":{"orient":"left","values":[1,10,100,1000],"format":"d","ticks":false,"labelFontSize":15,"labelPadding":6,"title":"Rock/Primitive Mantle","titleFontSize":19.5,"titlePadding":8,"zindex":1}},"y2":{"field":"hi"}}},
{"data":{"name":"band"},"mark":{"type":"point","opacity":0},"encoding":{"x":{"field":"e","type":"ordinal","sort":["Cs","Rb","Ba","Th","U","Nb","Ta","K","La","Ce","Pb","Pr","Sr","P","Nd","Zr","Sm","Eu","Ti","Dy","Y","Yb","Lu"],"axis":{"orient":"top","labels":false,"title":null,"tickSize":-6,"minExtent":0,"maxExtent":0,"zindex":1}},"y":{"field":"hi","type":"quantitative","axis":{"orient":"right","values":[1,2,3,4,5,6,7,8,9,10,20,30,40,50,60,70,80,90,100,200,300,400,500,600,700,800,900,1000],"labels":false,"title":null,"minExtent":0,"maxExtent":0,"tickSize":{"condition":{"test":"indexof([1,10,100,1000], datum.value) >= 0","value":-8},"value":-4},"zindex":1}}}},
{"data":{"name":"C"},"transform":[{"fold":["s1","s2","s3","s4","s5","s6","s7"],"as":["k","v"]}],"mark":{"type":"line","color":"#231f20","strokeWidth":1,"clip":true},"encoding":{"x":{"field":"e","type":"ordinal","sort":["Cs","Rb","Ba","Th","U","Nb","Ta","K","La","Ce","Pb","Pr","Sr","P","Nd","Zr","Sm","Eu","Ti","Dy","Y","Yb","Lu"],"axis":null},"y":{"field":"v","type":"quantitative","axis":null},"detail":{"field":"k"}}},
{"data":{"name":"C"},"transform":[{"fold":["s1","s2","s3","s4","s5","s6","s7"],"as":["k","v"]}],"mark":{"type":"point","shape":"circle","filled":true,"fill":"white","stroke":"#231f20","strokeWidth":1,"opacity":1,"size":100,"clip":true},"encoding":{"x":{"field":"e","type":"ordinal","axis":null},"y":{"field":"v","type":"quantitative","axis":null}}},
{"data":{"values":[{"t":"(c)"}]},"mark":{"type":"text","align":"right","baseline":"middle","fontSize":30,"dx":-5,"color":"#231f20"},"encoding":{"x":{"datum":"Lu","type":"ordinal","axis":null},"y":{"datum":650,"type":"quantitative","axis":null},"text":{"field":"t"}}}
]},
{"width":517,"height":369,"resolve":{"axis":{"x":"independent","y":"independent"}},"layer":[
{"data":{"name":"band"},"mark":{"type":"area","color":"#bcbec0","opacity":1},"encoding":{"x":{"field":"e","type":"ordinal","sort":["Cs","Rb","Ba","Th","U","Nb","Ta","K","La","Ce","Pb","Pr","Sr","P","Nd","Zr","Sm","Eu","Ti","Dy","Y","Yb","Lu"],"scale":{"type":"point","domain":["Cs","Rb","Ba","Th","U","Nb","Ta","K","La","Ce","Pb","Pr","Sr","P","Nd","Zr","Sm","Eu","Ti","Dy","Y","Yb","Lu"],"padding":0},"axis":{"orient":"bottom","title":null,"tickSize":-6,"labelFontSize":15,"labelAngle":0,"labelPadding":14,"labelOverlap":false,"zindex":1}},"y":{"field":"lo","type":"quantitative","scale":{"type":"log","domain":[0.8,1000],"nice":false},"axis":{"orient":"left","values":[1,2,3,4,5,6,7,8,9,10,20,30,40,50,60,70,80,90,100,200,300,400,500,600,700,800,900,1000],"labels":false,"title":null,"minExtent":0,"maxExtent":0,"tickSize":{"condition":{"test":"indexof([1,10,100,1000], datum.value) >= 0","value":-8},"value":-4},"zindex":1}},"y2":{"field":"hi"}}},
{"data":{"name":"band"},"mark":{"type":"point","opacity":0},"encoding":{"x":{"field":"e","type":"ordinal","sort":["Cs","Rb","Ba","Th","U","Nb","Ta","K","La","Ce","Pb","Pr","Sr","P","Nd","Zr","Sm","Eu","Ti","Dy","Y","Yb","Lu"],"axis":{"orient":"top","labels":false,"title":null,"tickSize":-6,"minExtent":0,"maxExtent":0,"zindex":1}},"y":{"field":"hi","type":"quantitative","axis":{"orient":"right","values":[1,2,3,4,5,6,7,8,9,10,20,30,40,50,60,70,80,90,100,200,300,400,500,600,700,800,900,1000],"labels":false,"title":null,"minExtent":0,"maxExtent":0,"tickSize":{"condition":{"test":"indexof([1,10,100,1000], datum.value) >= 0","value":-8},"value":-4},"zindex":1}}}},
{"data":{"name":"F"},"transform":[{"fold":["s1","s2","s3","s4","s5"],"as":["k","v"]}],"mark":{"type":"line","color":"#231f20","strokeWidth":1,"clip":true},"encoding":{"x":{"field":"e","type":"ordinal","sort":["Cs","Rb","Ba","Th","U","Nb","Ta","K","La","Ce","Pb","Pr","Sr","P","Nd","Zr","Sm","Eu","Ti","Dy","Y","Yb","Lu"],"axis":null},"y":{"field":"v","type":"quantitative","axis":null},"detail":{"field":"k"}}},
{"data":{"name":"F"},"transform":[{"fold":["s1","s2","s3","s4","s5"],"as":["k","v"]}],"mark":{"type":"point","shape":"diamond","filled":true,"color":"#231f20","opacity":1,"size":110,"clip":true},"encoding":{"x":{"field":"e","type":"ordinal","axis":null},"y":{"field":"v","type":"quantitative","axis":null}}},
{"data":{"values":[{"t":"(f)"}]},"mark":{"type":"text","align":"right","baseline":"middle","fontSize":30,"dx":-5,"color":"#231f20"},"encoding":{"x":{"datum":"Lu","type":"ordinal","axis":null},"y":{"datum":650,"type":"quantitative","axis":null},"text":{"field":"t"}}}
]},
{"width":517,"height":369,"resolve":{"axis":{"x":"independent","y":"independent"}},"layer":[
{"data":{"name":"band"},"mark":{"type":"area","color":"#bcbec0","opacity":1},"encoding":{"x":{"field":"e","type":"ordinal","sort":["Cs","Rb","Ba","Th","U","Nb","Ta","K","La","Ce","Pb","Pr","Sr","P","Nd","Zr","Sm","Eu","Ti","Dy","Y","Yb","Lu"],"scale":{"type":"point","domain":["Cs","Rb","Ba","Th","U","Nb","Ta","K","La","Ce","Pb","Pr","Sr","P","Nd","Zr","Sm","Eu","Ti","Dy","Y","Yb","Lu"],"padding":0},"axis":{"orient":"bottom","title":null,"tickSize":-6,"labelFontSize":15,"labelAngle":0,"labelPadding":14,"labelOverlap":false,"zindex":1}},"y":{"field":"lo","type":"quantitative","scale":{"type":"log","domain":[0.8,1000],"nice":false},"axis":{"orient":"left","values":[1,2,3,4,5,6,7,8,9,10,20,30,40,50,60,70,80,90,100,200,300,400,500,600,700,800,900,1000],"labels":false,"title":null,"minExtent":0,"maxExtent":0,"tickSize":{"condition":{"test":"indexof([1,10,100,1000], datum.value) >= 0","value":-8},"value":-4},"zindex":1}},"y2":{"field":"hi"}}},
{"data":{"name":"band"},"mark":{"type":"point","opacity":0},"encoding":{"x":{"field":"e","type":"ordinal","sort":["Cs","Rb","Ba","Th","U","Nb","Ta","K","La","Ce","Pb","Pr","Sr","P","Nd","Zr","Sm","Eu","Ti","Dy","Y","Yb","Lu"],"axis":{"orient":"top","labels":false,"title":null,"tickSize":-6,"minExtent":0,"maxExtent":0,"zindex":1}},"y":{"field":"hi","type":"quantitative","axis":{"orient":"right","values":[1,2,3,4,5,6,7,8,9,10,20,30,40,50,60,70,80,90,100,200,300,400,500,600,700,800,900,1000],"labels":false,"title":null,"minExtent":0,"maxExtent":0,"tickSize":{"condition":{"test":"indexof([1,10,100,1000], datum.value) >= 0","value":-8},"value":-4},"zindex":1}}}},
{"data":{"name":"I"},"transform":[{"fold":["s1","s2","s3","s4","s5","s6","s7"],"as":["k","v"]}],"mark":{"type":"line","color":"#231f20","strokeWidth":1,"clip":true},"encoding":{"x":{"field":"e","type":"ordinal","sort":["Cs","Rb","Ba","Th","U","Nb","Ta","K","La","Ce","Pb","Pr","Sr","P","Nd","Zr","Sm","Eu","Ti","Dy","Y","Yb","Lu"],"axis":null},"y":{"field":"v","type":"quantitative","axis":null},"detail":{"field":"k"}}},
{"data":{"name":"I"},"transform":[{"fold":["s1","s2","s3","s4","s5","s6","s7"],"as":["k","v"]}],"mark":{"type":"point","shape":"circle","filled":true,"color":"#231f20","opacity":1,"size":100,"clip":true},"encoding":{"x":{"field":"e","type":"ordinal","axis":null},"y":{"field":"v","type":"quantitative","axis":null}}},
{"data":{"values":[{"t":"(i)"}]},"mark":{"type":"text","align":"right","baseline":"middle","fontSize":30,"dx":-5,"color":"#231f20"},"encoding":{"x":{"datum":"Lu","type":"ordinal","axis":null},"y":{"datum":650,"type":"quantitative","axis":null},"text":{"field":"t"}}}
]}
]
}
